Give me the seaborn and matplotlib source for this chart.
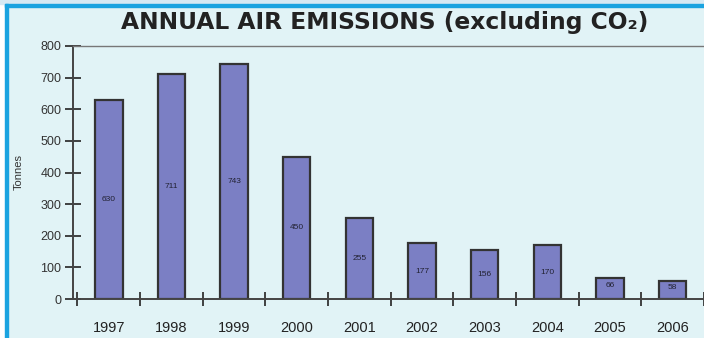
import matplotlib
matplotlib.use("Agg")
import matplotlib.pyplot as plt
import seaborn as sns
import pandas as pd
from matplotlib.patches import Rectangle

years = ["1997", "1998", "1999", "2000", "2001", "2002", "2003", "2004", "2005", "2006"]
tonnes = [630, 711, 743, 450, 255, 177, 156, 170, 66, 58]
yticks = [0, 100, 200, 300, 400, 500, 600, 700, 800]

sns.set_style("white")
plt.rcParams['font.family'] = ['Liberation Sans', 'DejaVu Sans']

W, H = 704, 338
fig = plt.figure(figsize=(W / 100, H / 100), dpi=100)
bg = "#e1f3f6"
fig.patch.set_facecolor(bg)

# border lines
fig.add_artist(Rectangle((0, 0), 5 / W, 1, transform=fig.transFigure, color="white", zorder=0))
fig.add_artist(Rectangle((5 / W, 0), 2.5 / W, 1 - 4 / H, transform=fig.transFigure, color="#1aa3e0", zorder=1))
fig.add_artist(Rectangle((0, 1 - 4 / H), 1, 4 / H, transform=fig.transFigure, color="#d6e9f3", zorder=0))
fig.add_artist(Rectangle((5 / W, 1 - 6.5 / H), 1, 2.5 / H, transform=fig.transFigure, color="#1aa3e0", zorder=1))

left, right = 73, 704
top, bottom = 46, 299
ax = fig.add_axes([left / W, 1 - bottom / H, (right - left) / W, (bottom - top) / H])
ax.set_facecolor(bg)

df = pd.DataFrame({"year": years, "tonnes": tonnes})
sns.barplot(data=df, x="year", y="tonnes", ax=ax, color="#7b7fc4", saturation=1,
            width=0.44, edgecolor="#333333", linewidth=1.6)

ax.set_xlim(-0.57, 9.46)
ax.set_ylim(0, 800)
ax.set_yticks(yticks)
ax.set_yticklabels([str(v) for v in yticks], fontsize=9, color="#333333")
ax.set_xticks([i + 0.5 for i in range(-1, 10)])
ax.set_xticklabels([])
ax.tick_params(axis="x", bottom=True, direction="inout", length=10, width=1.3, color="#333333")
ax.tick_params(axis="y", left=True, direction="inout", length=11, width=1.3, color="#333333", pad=3)
ax.set_xlabel("")
ax.set_ylabel("Tonnes", fontsize=8, color="#333333", labelpad=12)

ax.spines["right"].set_visible(False)
ax.spines["top"].set_color("#777777")
ax.spines["top"].set_linewidth(1.0)
ax.spines["left"].set_color("#444444")
ax.spines["left"].set_linewidth(1.4)
ax.spines["bottom"].set_color("#444444")
ax.spines["bottom"].set_linewidth(1.4)

for i, (y, v) in enumerate(zip(years, tonnes)):
    ax.text(i, -70, y, ha="center", va="top", fontsize=10.5, color="#222222")
    ax.text(i, v * 0.5 if v > 100 else v * 0.65, str(v), ha="center", va="center",
            fontsize=6, color="#222233")

fig.text(385 / W, 1 - 22 / H, "ANNUAL AIR EMISSIONS (excluding CO\u2082)", ha="center", va="center",
         fontsize=16.8, fontweight="heavy", color="#222222", family="DejaVu Sans")

fig.savefig("out.png", dpi=100, facecolor=bg)
